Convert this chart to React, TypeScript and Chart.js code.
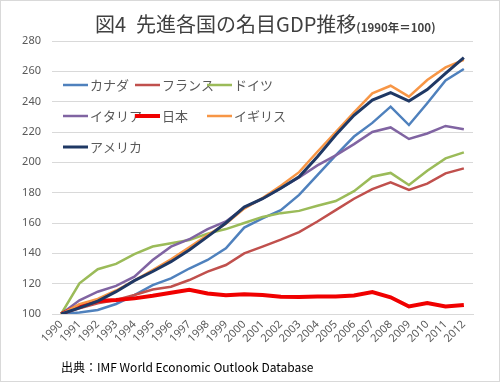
import React, { useEffect, useRef } from "react";
import { Chart, registerables } from "chart.js";

Chart.register(...registerables);

const years = ["1990","1991","1992","1993","1994","1995","1996","1997","1998","1999","2000","2001","2002","2003","2004","2005","2006","2007","2008","2009","2010","2011","2012"];

const canada = [100, 101, 102.6, 106.6, 112.5, 119, 123.5, 130, 135.6, 143.3, 157, 163, 168.5, 178.5, 191.6, 204.6, 217, 226, 236.7, 224.6, 239, 254, 261.5];
const france = [100, 103.7, 107, 109.2, 112.5, 116.2, 118, 122.4, 127.9, 132.3, 140, 144.4, 149, 154, 161, 168.5, 176, 182.4, 186.8, 181.8, 186, 192.7, 196];
const germany = [100, 120.2, 129.5, 133, 139.5, 144.5, 146.6, 148.8, 153, 156, 160, 164, 166.5, 168, 171.4, 174.5, 181, 190.5, 193, 185, 194.5, 202.6, 206.6];
const italy = [100, 109, 114.7, 118.5, 124.6, 135.6, 144.4, 149.3, 156, 161, 170, 176, 183, 190, 198, 204.6, 212, 220, 223, 215.4, 219, 224, 221.8];
const japan = [100, 105.5, 108.5, 109.2, 110.3, 112, 114, 116, 113.5, 112.3, 113, 112.5, 111.3, 111.2, 111.6, 111.6, 112.2, 114.5, 111, 105, 107.3, 105, 106];
const uk = [100, 106.5, 110, 115.5, 122, 129, 136, 144, 152, 159.5, 169.5, 176.5, 184.5, 193.5, 207, 220, 233, 245.5, 250.5, 243.3, 254.3, 262.6, 267.5];
const usa = [100, 104, 108.5, 114.7, 122, 128, 134.5, 142.2, 151, 160, 170.5, 176, 182.9, 190.5, 203.7, 218, 231, 241, 246, 240.4, 248, 258.7, 269];

const seriesNames = ["カナダ", "フランス", "ドイツ", "イタリア", "日本", "イギリス", "アメリカ"];
const seriesValues = [canada, france, germany, italy, japan, uk, usa];
const seriesColors = ["#4F81BD", "#C0504D", "#9BBB59", "#8064A2", "#F00000", "#F79646", "#1F3864"];
const seriesWidths = [2.5, 2.5, 2.5, 2.5, 4, 2.5, 3];

const yMin = 100;
const yMax = 280;
const yStep = 20;

const FONT = '"Noto Sans", "Noto Sans CJK JP", sans-serif';

const insideLegend = {
  id: "insideLegend",
  afterDatasetsDraw(chart: any) {
    const { ctx, chartArea } = chart;
    const x0 = chartArea.left + 11;
    const colW = 72;
    const y0 = chartArea.top + 44;
    const rowH = 31;
    ctx.save();
    ctx.font = '13px "Noto Sans CJK JP", sans-serif';
    ctx.textBaseline = "middle";
    ctx.fillStyle = "#595959";
    chart.data.datasets.forEach((ds: any, i: number) => {
      const col = i % 3;
      const row = Math.floor(i / 3);
      const x = x0 + col * colW;
      const y = y0 + row * rowH;
      ctx.strokeStyle = ds.borderColor;
      ctx.lineWidth = ds.borderWidth;
      ctx.beginPath();
      ctx.moveTo(x, y);
      ctx.lineTo(x + 25, y);
      ctx.stroke();
      ctx.fillText(ds.label, x + 27, y);
    });
    ctx.restore();
  },
};

export default function App() {
  const ref = useRef<HTMLCanvasElement>(null);
  useEffect(() => {
    document.body.style.margin = "0";
    const chart = new Chart(ref.current as HTMLCanvasElement, {
      type: "line",
      data: {
        labels: years,
        datasets: seriesNames.map((name, i) => ({
          label: name,
          data: seriesValues[i],
          borderColor: seriesColors[i],
          backgroundColor: seriesColors[i],
          borderWidth: seriesWidths[i],
          pointRadius: 0,
          tension: 0,
          fill: false,
          order: seriesNames.length - i,
        })),
      },
      options: {
        animation: false,
        responsive: false,
        layout: { padding: { left: 0, top: 41, right: 27, bottom: 0 } },
        plugins: {
          legend: { display: false },
          title: { display: false },
          tooltip: { enabled: false },
        },
        scales: {
          x: {
            offset: true,
            grid: { display: false, drawTicks: false },
            border: { display: true, color: "#d9d9d9" },
            ticks: {
              minRotation: 45,
              maxRotation: 45,
              padding: 4,
              color: "#595959",
              font: { family: FONT, size: 11 },
              autoSkip: false,
            },
            afterFit: (s: any) => {
              s.height = 68;
            },
          },
          y: {
            min: yMin,
            max: yMax,
            grid: { color: "#d9d9d9", drawTicks: false },
            border: { display: false },
            ticks: {
              stepSize: yStep,
              padding: 11,
              color: "#595959",
              font: { family: FONT, size: 11 },
            },
            afterFit: (s: any) => {
              s.width = 52;
            },
          },
        },
      },
      plugins: [insideLegend],
    });
    return () => chart.destroy();
  }, []);

  return (
    <div
      style={{
        position: "relative",
        width: 500,
        height: 382,
        boxSizing: "border-box",
        border: "1px solid #d9d9d9",
        background: "#fff",
        overflow: "hidden",
      }}
    >
      <canvas
        ref={ref}
        width={500}
        height={382}
        style={{ position: "absolute", left: -1, top: -1, width: 500, height: 382 }}
      />
      <div
        style={{
          position: "absolute",
          left: 94,
          top: 10,
          whiteSpace: "nowrap",
          color: "#404040",
          fontFamily: '"Noto Sans CJK JP", sans-serif',
          fontSize: 20,
          lineHeight: "26px",
        }}
      >
        図4{"\u2002"}先進各国の名目GDP推移
        <span style={{ fontSize: 11.5, fontWeight: "bold" }}>(1990年＝100)</span>
      </div>
      <div
        style={{
          position: "absolute",
          left: 60,
          top: 357,
          whiteSpace: "nowrap",
          color: "#000",
          fontFamily: '"Noto Sans CJK JP", sans-serif',
          fontSize: 12,
          lineHeight: "18px",
        }}
      >
        出典：IMF World Economic Outlook Database
      </div>
    </div>
  );
}
